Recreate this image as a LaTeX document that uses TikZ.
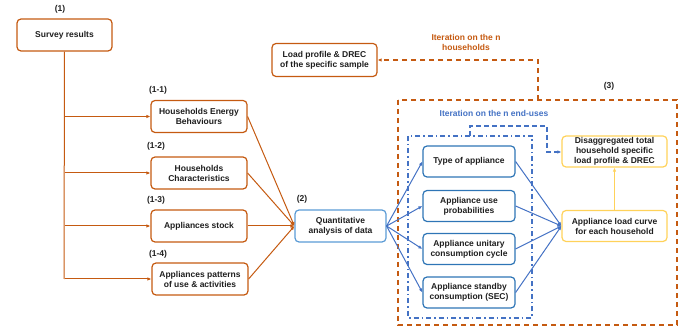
\documentclass[tikz,border=0pt]{standalone}
\usepackage{fontspec}
\setmainfont{Liberation Sans}
\usetikzlibrary{positioning, arrows.meta}
\definecolor{orange}{RGB}{197,90,17}
\definecolor{blue}{RGB}{46,117,182}
\definecolor{lightblue}{RGB}{91,155,213}
\definecolor{arrowblue}{RGB}{68,114,196}
\definecolor{yellow}{RGB}{255,210,90}
\definecolor{textgray}{RGB}{30,30,30}

\begin{document}
\begin{tikzpicture}[x=1pt, y=-1pt,
    font=\fontsize{8.5}{10}\selectfont\bfseries,
    box_orange/.style={rectangle,
        draw=orange,
        line width=1.2pt,
        rounded corners=4pt,
        minimum width=96pt,
        minimum height=32pt,
        align=center,
        text=textgray,
        inner sep=1pt,
        },
    box_blue/.style={rectangle,
        draw=blue,
        line width=1.2pt,
        rounded corners=4pt,
        minimum width=92pt,
        minimum height=31pt,
        align=center,
        text=textgray,
        inner sep=1pt,
        },
    box_yellow/.style={rectangle,
        draw=yellow,
        line width=1.2pt,
        rounded corners=4pt,
        minimum width=105pt,
        minimum height=31pt,
        align=center,
        text=textgray,
        inner sep=1pt,
        },
    num/.style={text=textgray},
    link_orange/.style={draw=orange, line width=1pt, -{Latex[length=4pt,width=3.5pt]}},
    link_blue/.style={draw=arrowblue, line width=1pt, -{Latex[length=4pt,width=3.5pt]}},
    loop_orange/.style={draw=orange, line width=1.6pt, dash pattern=on 5pt off 4pt},
    loop_blue/.style={draw=arrowblue, line width=1.3pt, dash pattern=on 5pt off 3pt},
    ]
    \useasboundingbox (0,0) rectangle (694,331);

    % frames of the iterations
    \draw[loop_orange] (398,100) rectangle (677,325);
    \draw[arrowblue, line width=1.3pt, dash pattern=on 5pt off 3pt on 1.5pt off 3pt] (408,136) rectangle (532,318);
    \coordinate (c_outer) at (538,100);
    \coordinate (c_inner) at (470,136);

    % survey and its branches
    \node[box_orange, minimum width=95pt] (n_survey) at (64.5,35) {Survey results};
    \node[num] at (60,9) {(1)};

    \node[box_orange] (n11) at (199,116.5) {Households Energy\\Behaviours};
    \node[num] at (158,90) {(1-1)};
    \node[box_orange] (n12) at (199,173) {Households\\Characteristics};
    \node[num] at (156,146) {(1-2)};
    \node[box_orange] (n13) at (199,226) {Appliances stock};
    \node[num] at (156,200) {(1-3)};
    \node[box_orange] (n14) at (200,279) {Appliances patterns\\of use \& activities};
    \node[num] at (158,254) {(1-4)};

    \coordinate (c_trunk) at (64,278);
    \draw[orange, line width=1pt] (n_survey.south) -- (c_trunk |- n14.west);
    \draw[link_orange] (n_survey.south |- n11.west) -- (n11.west);
    \draw[link_orange] (n_survey.south |- n12.west) -- (n12.west);
    \draw[link_orange] (n_survey.south |- n13.west) -- (n13.west);
    \draw[link_orange] (n_survey.south |- n14.west) -- (n14.west);

    % analysis
    \node[box_blue, draw=lightblue, minimum width=91pt, minimum height=32pt] (n_quant) at (340.5,226) {Quantitative\\analysis of data};
    \node[num] at (302,199) {(2)};

    \draw[link_orange] (n11.east) -- (n_quant.west);
    \draw[link_orange] (n12.east) -- (n_quant.west);
    \draw[link_orange] (n13.east) -- (n_quant.west);
    \draw[link_orange] (n14.east) -- (n_quant.west);

    % end-uses
    \node[box_blue] (n_type) at (469,161.5) {Type of appliance};
    \node[box_blue] (n_prob) at (469,206) {Appliance use\\probabilities};
    \node[box_blue] (n_cycle) at (469,249) {Appliance unitary\\consumption cycle};
    \node[box_blue] (n_sec) at (469,292.5) {Appliance standby\\consumption (SEC)};

    \foreach \n in {n_type, n_prob, n_cycle, n_sec} {
        \draw[link_blue] (n_quant.east) -- (\n.west);
    }

    % results
    \node[box_yellow] (n_curve) at (614.5,226) {Appliance load curve\\for each household};
    \node[box_yellow] (n_disagg) at (614.5,151.5) {Disaggregated total\\household specific\\load profile \& DREC};
    \node[num] at (609,86) {(3)};

    \foreach \n in {n_type, n_prob, n_cycle, n_sec} {
        \draw[link_blue] (\n.east) -- (n_curve.west);
    }
    \draw[draw=yellow, line width=1.2pt, -{Latex[length=4pt,width=3.5pt]}] (n_curve.north) -- (n_disagg.south);

    % iteration loops
    \node[box_orange, minimum width=105pt, minimum height=33pt] (n_load) at (324.5,60) {Load profile \& DREC\\of the specific sample};
    \draw[loop_orange, -{Latex[length=4pt,width=3.5pt]}] (c_outer) -- (c_outer |- n_load.east) -- (n_load.east);
    \node[text=orange, align=center] (n_iter_hh) at (466,42.5) {Iteration on the n\\households};

    \draw[loop_blue, -{Latex[length=4pt,width=3.5pt]}] (c_inner) -- (470,126) -- (547,126) -- (547,152) -- (n_disagg.west |- 547,152);
    \node[text=arrowblue] (n_iter_eu) at (494,113) {Iteration on the n end-uses};
\end{tikzpicture}
\end{document}
